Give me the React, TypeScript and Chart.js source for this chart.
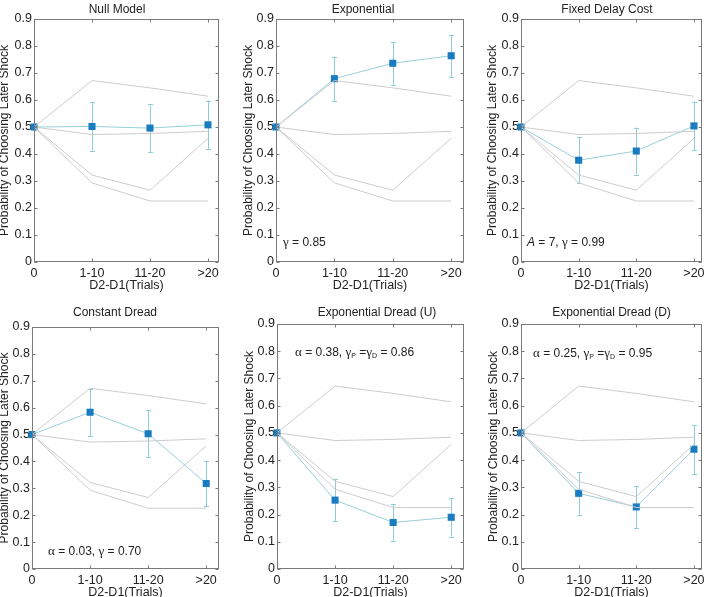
import React, { useEffect, useRef } from 'react';
import { Chart, registerables } from 'chart.js';

Chart.register(...registerables);

// Delay bins on the x axis
const categories = ['0', '1-10', '11-20', '>20'];

// Reference model curves drawn behind every panel
const refHigh = [0.5, 0.672, 0.645, 0.614];
const refMid = [0.5, 0.472, 0.476, 0.484];
const refLow = [0.5, 0.322, 0.266, 0.458];
const refMin = [0.5, 0.293, 0.226, 0.226];

// Model predictions (mean and error half-width) per delay bin
const nullMean = [0.5, 0.502, 0.496, 0.508];
const nullErr = [0, 0.09, 0.09, 0.09];
const expMean = [0.5, 0.679, 0.736, 0.764];
const expErr = [0, 0.082, 0.079, 0.078];
const fixedMean = [0.5, 0.377, 0.411, 0.504];
const fixedErr = [0, 0.085, 0.087, 0.09];
const constMean = [0.5, 0.583, 0.503, 0.318];
const constErr = [0, 0.088, 0.088, 0.084];
const expUMean = [0.5, 0.253, 0.171, 0.19];
const expUErr = [0, 0.077, 0.067, 0.071];
const expDMean = [0.5, 0.278, 0.228, 0.44];
const expDErr = [0, 0.078, 0.077, 0.09];

const SANS = '"Liberation Sans", Arial, Helvetica, sans-serif';
const SERIF = '"Liberation Serif", "Times New Roman", serif';
const TEXT = '#222222';
const FRAME = '#7a7a7a';
const REF_COLOR = '#cccccc';
const LINE_COLOR = 'rgb(152, 208, 215)';
const ERR_COLOR = 'rgb(140, 205, 214)';
const MARKER = 'rgb(26, 124, 192)';

type Part = { t: string; k?: 'sans' | 'greek' | 'italic' | 'sub' };

type PanelSpec = {
  title: string;
  mean: number[];
  err: number[];
  note: Part[];
  cell: [number, number, number, number];
  plot: [number, number, number, number];
  xMax: number;
  titleX: number;
  titleY: number;
  yTitleX: number;
  noteX: number;
  noteY: number;
};

const panels: PanelSpec[] = [
  {
    title: 'Null Model', mean: nullMean, err: nullErr, note: [],
    cell: [0, 0, 236, 298], plot: [34, 19, 219, 262], xMax: 3.19,
    titleX: 117, titleY: 10, yTitleX: 5, noteX: 0, noteY: 0,
  },
  {
    title: 'Exponential', mean: expMean, err: expErr,
    note: [{ t: 'γ', k: 'greek' }, { t: ' = 0.85' }],
    cell: [236, 0, 234, 298], plot: [276, 19, 464, 262], xMax: 3.22,
    titleX: 363, titleY: 10, yTitleX: 249, noteX: 283, noteY: 241,
  },
  {
    title: 'Fixed Delay Cost', mean: fixedMean, err: fixedErr,
    note: [{ t: 'A', k: 'italic' }, { t: ' = 7, ' }, { t: 'γ', k: 'greek' }, { t: ' = 0.99' }],
    cell: [470, 0, 242, 298], plot: [521, 19, 702, 262], xMax: 3.14,
    titleX: 607, titleY: 10, yTitleX: 493, noteX: 527, noteY: 241,
  },
  {
    title: 'Constant Dread', mean: constMean, err: constErr,
    note: [{ t: 'α', k: 'greek' }, { t: ' = 0.03, ' }, { t: 'γ', k: 'greek' }, { t: ' = 0.70' }],
    cell: [0, 298, 236, 299], plot: [32, 327, 219, 569], xMax: 3.22,
    titleX: 115, titleY: 313, yTitleX: 5, noteX: 48, noteY: 550,
  },
  {
    title: 'Exponential Dread (U)', mean: expUMean, err: expUErr,
    note: [
      { t: 'α', k: 'greek' }, { t: ' = 0.38, ' }, { t: 'γ', k: 'greek' }, { t: 'P', k: 'sub' },
      { t: ' =' }, { t: 'γ', k: 'greek' }, { t: 'D', k: 'sub' }, { t: ' = 0.86' },
    ],
    cell: [236, 298, 234, 299], plot: [277, 324, 464, 569], xMax: 3.22,
    titleX: 377, titleY: 313, yTitleX: 249.5, noteX: 295, noteY: 351,
  },
  {
    title: 'Exponential Dread (D)', mean: expDMean, err: expDErr,
    note: [
      { t: 'α', k: 'greek' }, { t: ' = 0.25, ' }, { t: 'γ', k: 'greek' }, { t: 'P', k: 'sub' },
      { t: ' =' }, { t: 'γ', k: 'greek' }, { t: 'D', k: 'sub' }, { t: ' = 0.95' },
    ],
    cell: [470, 298, 242, 299], plot: [521, 324, 702, 569], xMax: 3.14,
    titleX: 611.5, titleY: 313, yTitleX: 493.5, noteX: 533, noteY: 352,
  },
];

function partFont(k: Part['k']): string {
  switch (k) {
    case 'greek': return `13px ${SERIF}`;
    case 'italic': return `italic 12px ${SANS}`;
    case 'sub': return `7px ${SANS}`;
    default: return `12px ${SANS}`;
  }
}

function Panel({ spec }: { spec: PanelSpec }) {
  const ref = useRef<HTMLCanvasElement | null>(null);
  const [cx, cy, cw, ch] = spec.cell;
  const [pl, pt, pr, pb] = spec.plot;

  useEffect(() => {
    const canvas = ref.current;
    if (!canvas) return;

    const decor = {
      id: 'panelDecor',
      beforeDatasetsDraw(chart: any) {
        const { ctx, scales } = chart;
        const xs = scales.x;
        const ys = scales.y;
        ctx.save();
        ctx.strokeStyle = ERR_COLOR;
        ctx.lineWidth = 1;
        spec.mean.forEach((m, i) => {
          const e = spec.err[i];
          if (!e) return;
          const x = Math.round(xs.getPixelForValue(i)) + 0.5;
          const y1 = ys.getPixelForValue(m + e);
          const y2 = ys.getPixelForValue(m - e);
          ctx.beginPath();
          ctx.moveTo(x, y1);
          ctx.lineTo(x, y2);
          ctx.moveTo(x - 2.5, Math.round(y1) + 0.5);
          ctx.lineTo(x + 2.5, Math.round(y1) + 0.5);
          ctx.moveTo(x - 2.5, Math.round(y2) + 0.5);
          ctx.lineTo(x + 2.5, Math.round(y2) + 0.5);
          ctx.stroke();
        });
        ctx.restore();
      },
      afterDatasetsDraw(chart: any) {
        const { ctx, chartArea, scales } = chart;
        const l = Math.round(chartArea.left) + 0.5;
        const r = Math.round(chartArea.right) - 0.5;
        const t = Math.round(chartArea.top) + 0.5;
        const b = Math.round(chartArea.bottom) - 0.5;
        ctx.save();
        ctx.strokeStyle = FRAME;
        ctx.lineWidth = 1;
        ctx.strokeRect(l, t, r - l, b - t);
        ctx.beginPath();
        scales.y.ticks.forEach((tk: any) => {
          const y = Math.round(scales.y.getPixelForValue(tk.value)) + 0.5;
          ctx.moveTo(l, y); ctx.lineTo(l + 3, y);
          ctx.moveTo(r, y); ctx.lineTo(r - 3, y);
        });
        scales.x.ticks.forEach((tk: any) => {
          const x = Math.round(scales.x.getPixelForValue(tk.value)) + 0.5;
          ctx.moveTo(x, b); ctx.lineTo(x, b - 3);
          ctx.moveTo(x, t); ctx.lineTo(x, t + 3);
        });
        ctx.stroke();
        ctx.restore();
      },
      afterDraw(chart: any) {
        const { ctx, chartArea } = chart;
        ctx.save();
        ctx.fillStyle = TEXT;
        ctx.textBaseline = 'middle';
        ctx.textAlign = 'center';
        ctx.font = `12px ${SANS}`;
        ctx.fillText(spec.title, spec.titleX - cx, spec.titleY - cy);
        ctx.font = `12.5px ${SANS}`;
        ctx.fillText('D2-D1(Trials)', (chartArea.left + chartArea.right) / 2, chartArea.bottom + 24);
        ctx.save();
        ctx.translate(spec.yTitleX - cx, (chartArea.top + chartArea.bottom) / 2);
        ctx.rotate(-Math.PI / 2);
        ctx.font = `12px ${SANS}`;
        ctx.fillText('Probability of Choosing Later Shock', 0, 0);
        ctx.restore();

        if (spec.note.length) {
          ctx.textAlign = 'left';
          ctx.textBaseline = 'alphabetic';
          let x = spec.noteX - cx;
          const base = spec.noteY - cy + 4.5;
          spec.note.forEach((p) => {
            ctx.font = partFont(p.k);
            const y = p.k === 'sub' ? base + 2 : base;
            ctx.fillText(p.t, x, y);
            x += ctx.measureText(p.t).width;
          });
        }
        ctx.restore();
      },
    };

    const line = (data: number[], color: string, extra: any = {}) => ({
      data: data.map((v, i) => ({ x: i, y: v })),
      borderColor: color,
      borderWidth: 1,
      pointRadius: 0,
      fill: false,
      tension: 0,
      clip: false,
      ...extra,
    });

    const chart = new Chart(canvas, {
      type: 'line',
      data: {
        datasets: [
          line(refHigh, REF_COLOR),
          line(refMid, REF_COLOR),
          line(refLow, REF_COLOR),
          line(refMin, REF_COLOR),
          line(spec.mean, LINE_COLOR, {
            pointStyle: 'rect',
            pointRadius: 5,
            pointBackgroundColor: MARKER,
            pointBorderColor: MARKER,
            pointBorderWidth: 0,
          }),
        ],
      },
      options: {
        animation: false,
        responsive: false,
        devicePixelRatio: 1,
        events: [],
        layout: {
          padding: { left: 0, top: pt - cy, right: cx + cw - pr, bottom: 0 },
        },
        plugins: {
          legend: { display: false },
          tooltip: { enabled: false },
          title: { display: false },
        },
        scales: {
          x: {
            type: 'linear',
            min: 0,
            max: spec.xMax,
            grid: { display: false, drawTicks: false },
            border: { display: false },
            afterBuildTicks: (s: any) => {
              s.ticks = categories.map((_, i) => ({ value: i }));
            },
            afterFit: (s: any) => {
              s.height = cy + ch - pb;
            },
            ticks: {
              autoSkip: false,
              maxRotation: 0,
              padding: 4,
              color: TEXT,
              font: { family: SANS, size: 12.5 },
              callback: (v: any) => categories[Number(v)] ?? '',
            },
          },
          y: {
            type: 'linear',
            min: 0,
            max: 0.9,
            grid: { display: false, drawTicks: false },
            border: { display: false },
            afterFit: (s: any) => {
              s.width = pl - cx;
            },
            ticks: {
              stepSize: 0.1,
              padding: 2,
              color: TEXT,
              font: { family: SANS, size: 12.5 },
              callback: (v: any) => (Number(v) === 0 ? '0' : Number(v).toFixed(1)),
            },
          },
        },
      },
      plugins: [decor],
    });

    return () => chart.destroy();
  }, [spec]);

  return (
    <canvas
      ref={ref}
      width={cw}
      height={ch}
      style={{ position: 'absolute', left: cx, top: cy, width: cw, height: ch }}
    />
  );
}

export default function App() {
  return (
    <div
      style={{
        position: 'fixed',
        left: 0,
        top: 0,
        width: 712,
        height: 597,
        background: '#ffffff',
        overflow: 'hidden',
      }}
    >
      {panels.map((p) => (
        <Panel key={p.title} spec={p} />
      ))}
    </div>
  );
}
